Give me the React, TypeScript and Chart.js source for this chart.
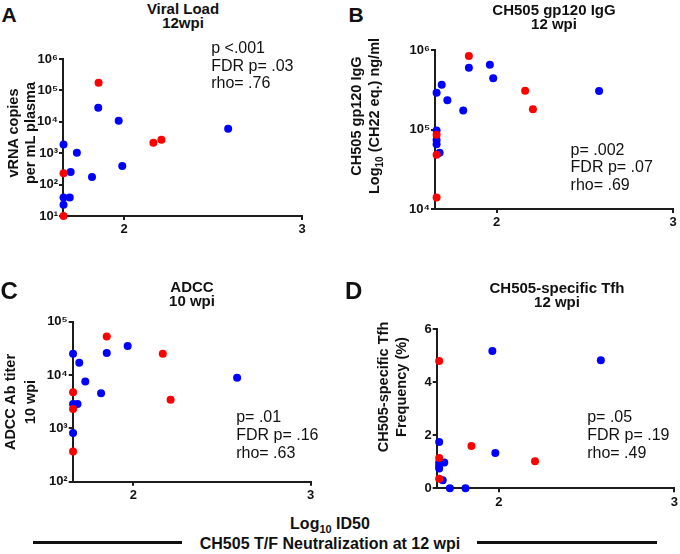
import React, { useEffect, useRef } from "react";
import { Chart, registerables } from "chart.js";

Chart.register(...registerables);

const FONT = "'Liberation Sans', Arial, Helvetica, sans-serif";
const TICK_FONT = "'Liberation Sans Narrow', 'Liberation Sans', Arial, sans-serif";
Chart.defaults.font.family = FONT;

const BLUE = "#0000ff";
const RED = "#ff0000";
const AXIS = "#1c1c1c";

// ---------- data (x = Log10 ID50 of CH505 T/F neutralization at 12 wpi) ----------
// Panel A: Viral Load 12wpi (vRNA copies per mL plasma)
const vlBlueX = [1.66, 1.66, 1.66, 1.695, 1.70, 1.735, 1.82, 1.855, 1.97, 1.99, 2.585];
const vlBlueY = [1900, 39, 23, 39, 250, 1030, 175, 28000, 10800, 390, 6000];
const vlRedX = [1.66, 1.66, 1.857, 2.165, 2.21];
const vlRedY = [230, 10, 176000, 2150, 2700];

// Panel B: CH505 gp120 IgG 12 wpi (ng/ml)
const igBlueX = [1.66, 1.689, 1.721, 1.811, 1.843, 1.962, 1.981, 2.581, 1.66, 1.66, 1.66, 1.677];
const igBlueY = [290000, 366000, 233000, 174000, 600000, 650000, 440000, 305000, 97000, 74000, 65000, 51000];
const igRedX = [1.843, 2.162, 2.206, 1.66, 1.66, 1.66];
const igRedY = [840000, 308000, 180000, 86000, 48000, 14000];

// Panel C: ADCC Ab titer 10 wpi
const adBlueX = [1.66, 1.695, 1.729, 1.818, 1.85, 1.968, 2.585, 1.66, 1.685, 1.66];
const adBlueY = [25000, 17000, 7600, 4550, 26000, 35000, 8900, 2850, 2850, 820];
const adRedX = [1.85, 2.166, 2.21, 1.66, 1.66, 1.66];
const adRedY = [53000, 25000, 3450, 4750, 2300, 370];

// Panel D: CH505-specific Tfh frequency (%) 12 wpi
const tfBlueX = [1.963, 2.581, 1.66, 1.98, 1.66, 1.689, 1.66, 1.66, 1.68, 1.721, 1.81];
const tfBlueY = [5.18, 4.83, 1.75, 1.33, 0.97, 0.97, 0.85, 0.75, 0.30, 0, 0];
const tfRedX = [1.66, 1.844, 2.206, 1.66, 1.66];
const tfRedY = [4.80, 1.60, 1.02, 1.14, 0.36];

// tick values
const xTickValues = [2, 3];
const vlTicks = [10, 100, 1000, 10000, 100000, 1000000];
const igTicks = [10000, 100000, 1000000];
const adTicks = [100, 1000, 10000, 100000];
const tfTicks = [0, 2, 4, 6];

const SUP: Record<string, string> = { "1": "¹", "2": "²", "3": "³", "4": "⁴", "5": "⁵", "6": "⁶" };
const powLabel = (v: number) => "10" + SUP[String(Math.round(Math.log10(v)))];

type Spec = {
  box: [number, number, number, number]; // canvas left, top, width, height
  plot: [number, number, number, number]; // plot left, top, right, bottom
  xMin: number;
  yType: "logarithmic" | "linear";
  yMin: number;
  yMax: number;
  yTicks: number[];
  yLabel: (v: number) => string;
  blueX: number[];
  blueY: number[];
  redX: number[];
  redY: number[];
};

const specs: Spec[] = [
  {
    box: [0, 40, 340, 200], plot: [63, 59, 302, 216], xMin: 1.657,
    yType: "logarithmic", yMin: 10, yMax: 1000000, yTicks: vlTicks, yLabel: powLabel,
    blueX: vlBlueX, blueY: vlBlueY, redX: vlRedX, redY: vlRedY,
  },
  {
    box: [340, 30, 340, 210], plot: [435, 50, 673, 209], xMin: 1.651,
    yType: "logarithmic", yMin: 10000, yMax: 1000000, yTicks: igTicks, yLabel: powLabel,
    blueX: igBlueX, blueY: igBlueY, redX: igRedX, redY: igRedY,
  },
  {
    box: [0, 300, 340, 205], plot: [72.7, 321.7, 310.7, 481.7], xMin: 1.658,
    yType: "logarithmic", yMin: 100, yMax: 100000, yTicks: adTicks, yLabel: powLabel,
    blueX: adBlueX, blueY: adBlueY, redX: adRedX, redY: adRedY,
  },
  {
    box: [340, 300, 340, 210], plot: [436.7, 329.3, 676, 488.3], xMin: 1.646,
    yType: "linear", yMin: 0, yMax: 6, yTicks: tfTicks, yLabel: (v: number) => String(v),
    blueX: tfBlueX, blueY: tfBlueY, redX: tfRedX, redY: tfRedY,
  },
];

function Panel({ spec }: { spec: Spec }) {
  const ref = useRef<HTMLCanvasElement>(null);
  const [cx, cy, cw, ch] = spec.box;
  useEffect(() => {
    const [pl, pt, pr, pb] = spec.plot;
    const pts = (xs: number[], ys: number[]) => xs.map((x, i) => ({ x, y: ys[i] }));
    const tickFont = { family: TICK_FONT, size: 13, weight: "bold" as const };
    const chart = new Chart(ref.current as HTMLCanvasElement, {
      type: "scatter",
      data: {
        datasets: [
          { data: pts(spec.redX, spec.redY), backgroundColor: RED, borderWidth: 0, pointRadius: 4, pointHoverRadius: 4, clip: false } as any,
          { data: pts(spec.blueX, spec.blueY), backgroundColor: BLUE, borderWidth: 0, pointRadius: 4, pointHoverRadius: 4, clip: false } as any,
        ],
      },
      options: {
        animation: false,
        responsive: false,
        devicePixelRatio: 1,
        events: [],
        layout: { padding: { left: 0, top: pt - cy, right: cx + cw - pr, bottom: 0 } },
        plugins: { legend: { display: false }, tooltip: { enabled: false }, title: { display: false } },
        scales: {
          x: {
            type: "linear",
            min: spec.xMin,
            max: 3,
            afterBuildTicks: (s: any) => { s.ticks = xTickValues.map((v) => ({ value: v })); },
            afterFit: (s: any) => { s.height = cy + ch - pb; },
            grid: { display: true, drawOnChartArea: false, drawTicks: true, tickLength: 4, lineWidth: 2, color: AXIS },
            border: { display: true, color: AXIS, width: 2 },
            ticks: { color: "#111", font: tickFont, padding: 2, autoSkip: false, maxRotation: 0, callback: (v: any) => String(v) },
          },
          y: {
            type: spec.yType,
            min: spec.yMin,
            max: spec.yMax,
            afterBuildTicks: (s: any) => { s.ticks = spec.yTicks.map((v) => ({ value: v })); },
            afterFit: (s: any) => { s.width = pl - cx; },
            grid: { display: true, drawOnChartArea: false, drawTicks: true, tickLength: 4, lineWidth: 2, color: AXIS },
            border: { display: true, color: AXIS, width: 2 },
            ticks: { color: "#111", font: tickFont, padding: 1, autoSkip: false, callback: (v: any) => spec.yLabel(Number(v)) },
          } as any,
        },
      },
    });
    return () => chart.destroy();
  }, [spec]);
  return (
    <canvas
      ref={ref}
      width={cw}
      height={ch}
      style={{ position: "absolute", left: cx, top: cy, width: cw, height: ch }}
    />
  );
}

const txt = (extra: React.CSSProperties): React.CSSProperties => ({
  position: "absolute",
  fontFamily: FONT,
  color: "#111",
  whiteSpace: "pre",
  margin: 0,
  ...extra,
});

function Title({ cx, top, lines }: { cx: number; top: number; lines: string[] }) {
  return (
    <div style={txt({ left: cx - 150, top, width: 300, textAlign: "center", fontSize: 15, lineHeight: "14px", fontWeight: "bold" })}>
      {lines.map((l, i) => <div key={i}>{l}</div>)}
    </div>
  );
}

function Stats({ left, top, lines }: { left: number; top: number; lines: string[] }) {
  return (
    <div style={txt({ left, top, fontSize: 16, lineHeight: "17.7px" })}>
      {lines.map((l, i) => <div key={i}>{l}</div>)}
    </div>
  );
}

function Letter({ left, top, size, ch }: { left: number; top: number; size: number; ch: string }) {
  return <div style={txt({ left, top, fontSize: size, lineHeight: `${size}px`, fontWeight: "bold" })}>{ch}</div>;
}

function YTitle({ xc, yc, lh, children }: { xc: number; yc: number; lh: number; children: React.ReactNode }) {
  const w = 220;
  const h = lh * 2;
  return (
    <div
      style={txt({
        left: xc - w / 2,
        top: yc - h / 2,
        width: w,
        height: h,
        textAlign: "center",
        fontSize: 14.5,
        lineHeight: `${lh}px`,
        fontWeight: "bold",
        transform: "rotate(-90deg)",
        transformOrigin: "50% 50%",
      })}
    >
      {children}
    </div>
  );
}

export default function App() {
  return (
    <div style={{ position: "absolute", left: 0, top: 0, width: 680, height: 554, background: "#fff", overflow: "hidden" }}>
      {specs.map((s, i) => <Panel key={i} spec={s} />)}

      <Letter left={1.5} top={3.9} size={21} ch="A" />
      <Letter left={348.5} top={3.9} size={21} ch="B" />
      <Letter left={0.5} top={278.7} size={24} ch="C" />
      <Letter left={345} top={278.7} size={24} ch="D" />

      <Title cx={183} top={1.8} lines={["Viral Load", "12wpi"]} />
      <Title cx={554} top={2.8} lines={["CH505 gp120 IgG", "12 wpi"]} />
      <Title cx={192} top={280} lines={["ADCC", "10 wpi"]} />
      <Title cx={557} top={280.5} lines={["CH505-specific Tfh", "12 wpi"]} />

      <Stats left={211.2} top={38.9} lines={["p <.001", "FDR p= .03", "rho= .76"]} />
      <Stats left={570.6} top={140.6} lines={["p= .002", "FDR p= .07", "rho= .69"]} />
      <Stats left={236.2} top={408.3} lines={["p= .01", "FDR p= .16", "rho= .63"]} />
      <Stats left={587.2} top={408.3} lines={["p= .05", "FDR p= .19", "rho= .49"]} />

      <YTitle xc={21.5} yc={133} lh={17}>
        <div>vRNA copies</div>
        <div>per mL plasma</div>
      </YTitle>
      <YTitle xc={365} yc={116} lh={18}>
        <div>CH505 gp120 IgG</div>
        <div>
          Log<sub style={{ fontSize: 10, lineHeight: 0 }}>10</sub> (CH22 eq.) ng/ml
        </div>
      </YTitle>
      <YTitle xc={20} yc={402} lh={20}>
        <div>ADCC Ab titer</div>
        <div>10 wpi</div>
      </YTitle>
      <YTitle xc={391.5} yc={387} lh={18}>
        <div>CH505-specific Tfh</div>
        <div>Frequency (%)</div>
      </YTitle>

      <div style={txt({ left: 180, top: 515.5, width: 300, textAlign: "center", fontSize: 16, lineHeight: "16px", fontWeight: "bold" })}>
        Log<sub style={{ fontSize: 11, lineHeight: 0 }}>10</sub> ID50
      </div>
      <div style={txt({ left: 130, top: 535.5, width: 400, textAlign: "center", fontSize: 16, lineHeight: "16px", fontWeight: "bold" })}>
        CH505 T/F Neutralization at 12 wpi
      </div>
      <div style={{ position: "absolute", left: 33, top: 540.5, width: 149, height: 3, background: "#111" }} />
      <div style={{ position: "absolute", left: 477, top: 540.5, width: 180, height: 3, background: "#111" }} />
    </div>
  );
}
